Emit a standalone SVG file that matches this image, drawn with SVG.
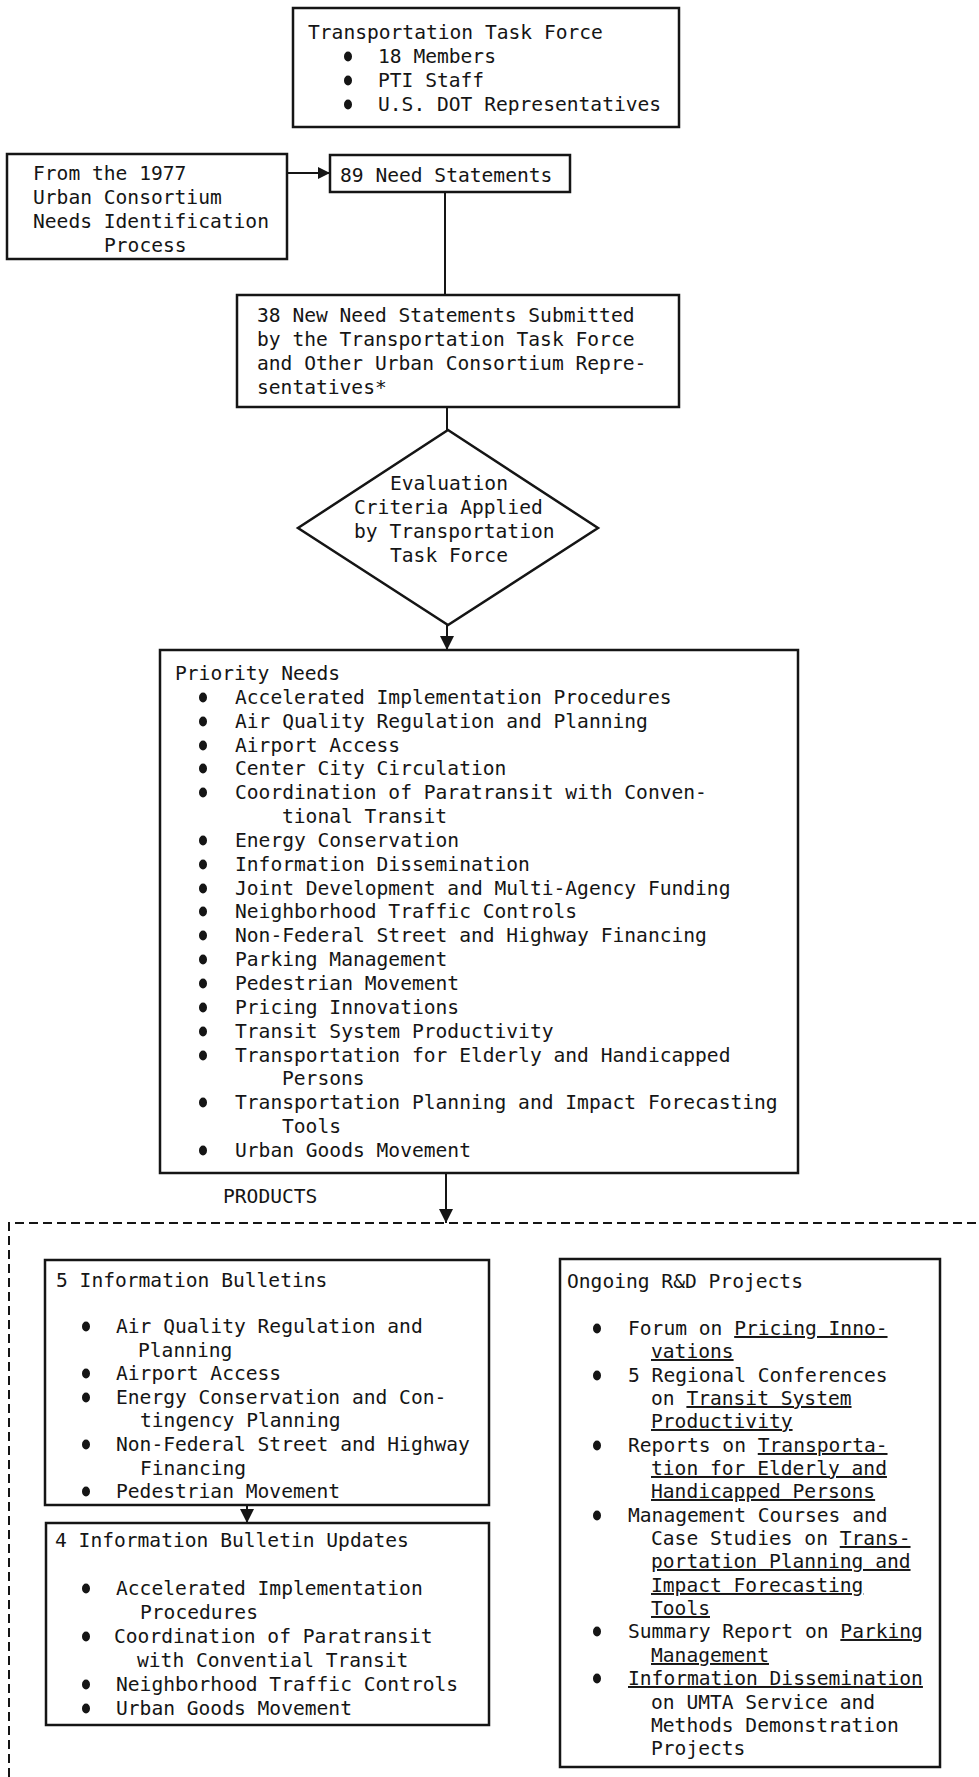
<svg xmlns="http://www.w3.org/2000/svg" xmlns:xlink="http://www.w3.org/1999/xlink" width="979" height="1777" viewBox="0 0 979 1777">
<style>
text{font-family:"DejaVu Sans Mono","Liberation Mono",monospace;font-size:19.6px;fill:#151515}
.box{fill:none;stroke:#151515;stroke-width:2.5}
.ln{stroke:#151515;stroke-width:2;fill:none}
.dash{stroke:#151515;stroke-width:2;fill:none;stroke-dasharray:9 5}
.u{text-decoration:underline}
</style>
<defs>
<ellipse id="b" cx="0" cy="0" rx="4" ry="5" fill="#151515"/>
<marker id="ah" viewBox="0 0 10 10" refX="10" refY="5" markerWidth="14" markerHeight="14" markerUnits="userSpaceOnUse" orient="auto"><path d="M0,0 L10,5 L0,10 z" fill="#151515"/></marker>
<marker id="ahs" viewBox="0 0 10 10" refX="10" refY="5" markerWidth="12" markerHeight="14" markerUnits="userSpaceOnUse" orient="auto"><path d="M0,0 L10,5 L0,10 z" fill="#151515"/></marker>
</defs>
<rect width="979" height="1777" fill="#fff"/>

<g id="connectors">
<line class="ln" x1="287" y1="173" x2="330" y2="173" marker-end="url(#ahs)"/>
<line class="ln" x1="445" y1="192" x2="445" y2="295"/>
<line class="ln" x1="447" y1="407" x2="447" y2="430"/>
<line class="ln" x1="447" y1="625" x2="447" y2="650" marker-end="url(#ah)"/>
<line class="ln" x1="446" y1="1173" x2="446" y2="1223" marker-end="url(#ah)"/>
<line class="ln" x1="247" y1="1505" x2="247" y2="1523" marker-end="url(#ah)"/>
</g>

<g id="products-frame">
<path class="dash" d="M9,1777 V1223 H979"/>
<text x="223" y="1203">PRODUCTS</text>
</g>

<g id="task-force">
<rect class="box" x="293" y="8" width="386" height="119"/>
<text x="308" y="39">Transportation Task Force</text>
<use href="#b" x="348" y="56.5"/><text x="378" y="63">18 Members</text>
<use href="#b" x="348" y="80.5"/><text x="378" y="87">PTI Staff</text>
<use href="#b" x="348" y="104.5"/><text x="378" y="111">U.S. DOT Representatives</text>
</g>

<g id="urban-consortium-1977">
<rect class="box" x="7" y="154" width="280" height="105"/>
<text x="33" y="180">From the 1977</text>
<text x="33" y="204">Urban Consortium</text>
<text x="33" y="228">Needs Identification</text>
<text x="104" y="252">Process</text>
</g>

<g id="need-statements-89">
<rect class="box" x="330" y="155" width="240" height="37"/>
<text x="340" y="182">89 Need Statements</text>
</g>

<g id="new-need-statements-38">
<rect class="box" x="237" y="295" width="442" height="112"/>
<text x="257" y="322">38 New Need Statements Submitted</text>
<text x="257" y="346">by the Transportation Task Force</text>
<text x="257" y="370">and Other Urban Consortium Repre-</text>
<text x="257" y="394">sentatives*</text>
</g>

<g id="evaluation-criteria">
<polygon class="box" points="448,430 598,528 448,625 298,528"/>
<text x="390" y="490">Evaluation</text>
<text x="354" y="514">Criteria Applied</text>
<text x="354" y="538">by Transportation</text>
<text x="390" y="562">Task Force</text>
</g>

<g id="priority-needs">
<rect class="box" x="160" y="650" width="638" height="523"/>
<text x="175" y="680">Priority Needs</text>
<use href="#b" x="203" y="697.5"/><text x="235" y="704">Accelerated Implementation Procedures</text>
<use href="#b" x="203" y="721.5"/><text x="235" y="728">Air Quality Regulation and Planning</text>
<use href="#b" x="203" y="745.5"/><text x="235" y="752">Airport Access</text>
<use href="#b" x="203" y="768.5"/><text x="235" y="775">Center City Circulation</text>
<use href="#b" x="203" y="792.5"/><text x="235" y="799">Coordination of Paratransit with Conven-</text>
<text x="282" y="823">tional Transit</text>
<use href="#b" x="203" y="840.5"/><text x="235" y="847">Energy Conservation</text>
<use href="#b" x="203" y="864.5"/><text x="235" y="871">Information Dissemination</text>
<use href="#b" x="203" y="888.5"/><text x="235" y="895">Joint Development and Multi-Agency Funding</text>
<use href="#b" x="203" y="911.5"/><text x="235" y="918">Neighborhood Traffic Controls</text>
<use href="#b" x="203" y="935.5"/><text x="235" y="942">Non-Federal Street and Highway Financing</text>
<use href="#b" x="203" y="959.5"/><text x="235" y="966">Parking Management</text>
<use href="#b" x="203" y="983.5"/><text x="235" y="990">Pedestrian Movement</text>
<use href="#b" x="203" y="1007.5"/><text x="235" y="1014">Pricing Innovations</text>
<use href="#b" x="203" y="1031.5"/><text x="235" y="1038">Transit System Productivity</text>
<use href="#b" x="203" y="1055.5"/><text x="235" y="1062">Transportation for Elderly and Handicapped</text>
<text x="282" y="1085">Persons</text>
<use href="#b" x="203" y="1102.5"/><text x="235" y="1109">Transportation Planning and Impact Forecasting</text>
<text x="282" y="1133">Tools</text>
<use href="#b" x="203" y="1150.5"/><text x="235" y="1157">Urban Goods Movement</text>
</g>

<g id="information-bulletins">
<rect class="box" x="45" y="1260" width="444" height="245"/>
<text x="56" y="1287">5 Information Bulletins</text>
<use href="#b" x="86" y="1326.5"/><text x="116" y="1333">Air Quality Regulation and</text>
<text x="138" y="1357">Planning</text>
<use href="#b" x="86" y="1373.5"/><text x="116" y="1380">Airport Access</text>
<use href="#b" x="86" y="1397.5"/><text x="116" y="1404">Energy Conservation and Con-</text>
<text x="140" y="1427">tingency Planning</text>
<use href="#b" x="86" y="1444.5"/><text x="116" y="1451">Non-Federal Street and Highway</text>
<text x="140" y="1475">Financing</text>
<use href="#b" x="86" y="1491.5"/><text x="116" y="1498">Pedestrian Movement</text>
</g>

<g id="information-bulletin-updates">
<rect class="box" x="46" y="1523" width="443" height="202"/>
<text x="55" y="1547">4 Information Bulletin Updates</text>
<use href="#b" x="86" y="1588.5"/><text x="116" y="1595">Accelerated Implementation</text>
<text x="140" y="1619">Procedures</text>
<use href="#b" x="86" y="1636.5"/><text x="114" y="1643">Coordination of Paratransit</text>
<text x="137" y="1667">with Convential Transit</text>
<use href="#b" x="86" y="1684.5"/><text x="116" y="1691">Neighborhood Traffic Controls</text>
<use href="#b" x="86" y="1708.5"/><text x="116" y="1715">Urban Goods Movement</text>
</g>

<g id="ongoing-rd-projects">
<rect class="box" x="560" y="1259" width="380" height="508"/>
<text x="567" y="1288">Ongoing R&amp;D Projects</text>
<use href="#b" x="597" y="1328.5"/><text x="628" y="1335">Forum on <tspan class="u">Pricing Inno-</tspan></text>
<text x="651" y="1358"><tspan class="u">vations</tspan></text>
<use href="#b" x="597" y="1375.5"/><text x="628" y="1382">5 Regional Conferences</text>
<text x="651" y="1405">on <tspan class="u">Transit System</tspan></text>
<text x="651" y="1428"><tspan class="u">Productivity</tspan></text>
<use href="#b" x="597" y="1445.5"/><text x="628" y="1452">Reports on <tspan class="u">Transporta-</tspan></text>
<text x="651" y="1475"><tspan class="u">tion for Elderly and</tspan></text>
<text x="651" y="1498"><tspan class="u">Handicapped Persons</tspan></text>
<use href="#b" x="597" y="1515.5"/><text x="628" y="1522">Management Courses and</text>
<text x="651" y="1545">Case Studies on <tspan class="u">Trans-</tspan></text>
<text x="651" y="1568"><tspan class="u">portation Planning and</tspan></text>
<text x="651" y="1592"><tspan class="u">Impact Forecasting</tspan></text>
<text x="651" y="1615"><tspan class="u">Tools</tspan></text>
<use href="#b" x="597" y="1631.5"/><text x="628" y="1638">Summary Report on <tspan class="u">Parking</tspan></text>
<text x="651" y="1662"><tspan class="u">Management</tspan></text>
<use href="#b" x="597" y="1678.5"/><text x="628" y="1685"><tspan class="u">Information Dissemination</tspan></text>
<text x="651" y="1709">on UMTA Service and</text>
<text x="651" y="1732">Methods Demonstration</text>
<text x="651" y="1755">Projects</text>
</g>
</svg>
